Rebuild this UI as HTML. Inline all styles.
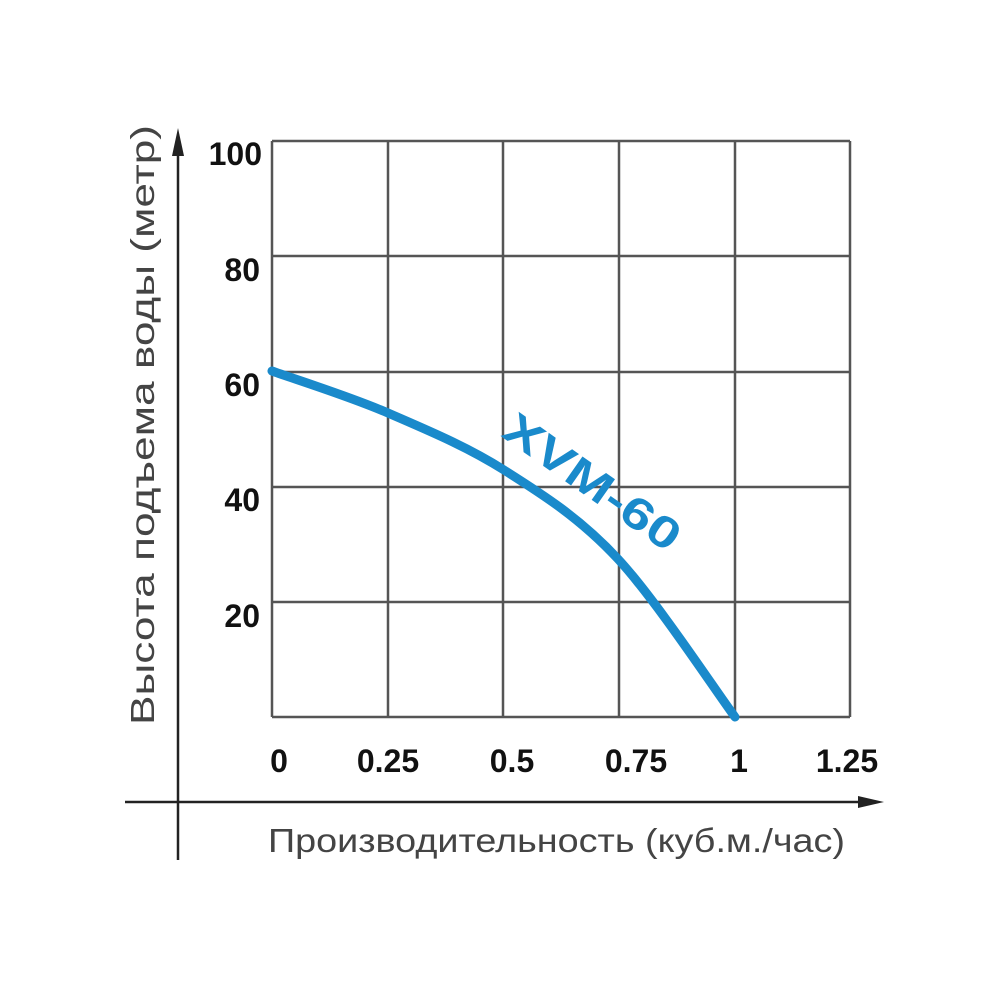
<!DOCTYPE html>
<html><head><meta charset="utf-8"><style>
body{margin:0;background:#fff;}
svg{display:block;}
text{font-family:"Liberation Sans",sans-serif;}
</style></head><body>
<svg width="1000" height="1000" viewBox="0 0 1000 1000">
<g stroke="#555" stroke-width="2.5" fill="none">
<line x1="272" y1="141" x2="272" y2="717"/>
<line x1="388" y1="141" x2="388" y2="717"/>
<line x1="503" y1="141" x2="503" y2="717"/>
<line x1="619" y1="141" x2="619" y2="717"/>
<line x1="735" y1="141" x2="735" y2="717"/>
<line x1="850" y1="141" x2="850" y2="717"/>
<line x1="272" y1="141" x2="850" y2="141"/>
<line x1="272" y1="256" x2="850" y2="256"/>
<line x1="272" y1="372" x2="850" y2="372"/>
<line x1="272" y1="487" x2="850" y2="487"/>
<line x1="272" y1="602" x2="850" y2="602"/>
<line x1="272" y1="717" x2="850" y2="717"/>
</g>
<g stroke="#222" stroke-width="2.5">
<line x1="178" y1="860" x2="178" y2="150"/>
<line x1="125" y1="802" x2="868" y2="802"/>
</g>
<polygon points="178,128 172,156 184,156" fill="#222"/>
<polygon points="884,802 858,796 858,808" fill="#222"/>
<path d="M272,371 C291,378 349,396 388,413 C427,430 466,446 504,470 C542,494 580,518 618,559 C656,600 715,690 735,717" stroke="#1a8acb" stroke-width="9" fill="none" stroke-linecap="round"/>
<text x="592" y="497" font-size="44" font-weight="bold" fill="#1a8acb" text-anchor="middle" textLength="205" lengthAdjust="spacingAndGlyphs" transform="rotate(35 592 483)">XVM-60</text>
<g font-size="32" font-weight="bold" fill="#111" text-anchor="end">
<text x="262" y="165">100</text>
<text x="260" y="281">80</text>
<text x="260" y="396">60</text>
<text x="260" y="511">40</text>
<text x="260" y="627">20</text>
</g>
<g font-size="32" font-weight="bold" fill="#111" text-anchor="middle">
<text x="279" y="772">0</text>
<text x="388" y="772">0.25</text>
<text x="512" y="772">0.5</text>
<text x="636" y="772">0.75</text>
<text x="739" y="772">1</text>
<text x="847" y="772">1.25</text>
</g>
<text x="268" y="852" font-size="33" fill="#444" textLength="577" lengthAdjust="spacingAndGlyphs">Производительность (куб.м./час)</text>
<text transform="translate(154 725) rotate(-90)" font-size="33" fill="#444" textLength="600" lengthAdjust="spacingAndGlyphs">Высота подъема воды (метр)</text>
</svg>
</body></html>
